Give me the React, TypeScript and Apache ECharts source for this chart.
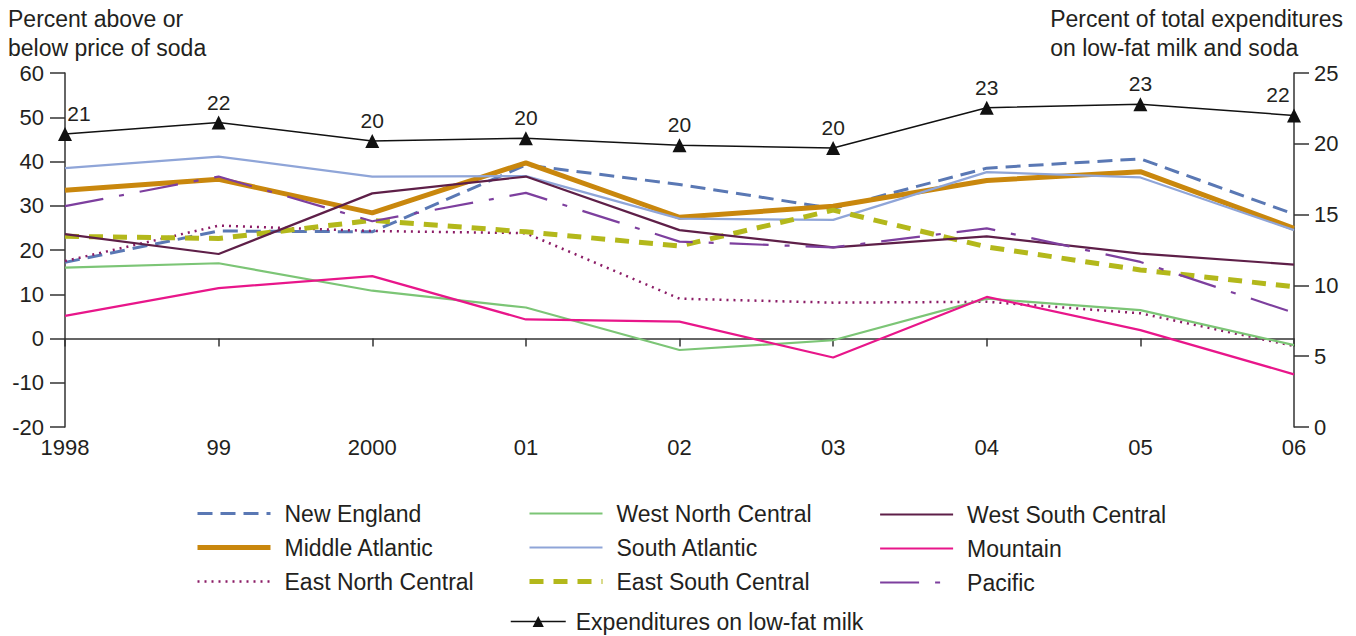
import React, { useEffect, useRef } from 'react';
import * as echarts from 'echarts';

const years = ['1998', '99', '2000', '01', '02', '03', '04', '05', '06'];

// percent above or below price of soda (left axis)
const newEngland = [17.2, 24.3, 24.1, 39.2, 34.8, 29.4, 38.5, 40.6, 28.1];
const middleAtlantic = [33.5, 36.0, 28.4, 39.7, 27.4, 29.9, 35.7, 37.7, 24.9];
const eastNorthCentral = [17.5, 25.5, 24.3, 23.8, 9.0, 8.1, 8.3, 5.7, -1.7];
const westNorthCentral = [16.0, 17.0, 10.8, 7.0, -2.6, -0.4, 9.0, 6.4, -1.5];
const southAtlantic = [38.5, 41.1, 36.6, 36.7, 27.1, 26.8, 37.6, 36.4, 24.5];
const eastSouthCentral = [23.1, 22.6, 26.7, 24.1, 20.9, 29.0, 20.7, 15.5, 11.7];
const westSouthCentral = [23.6, 19.1, 32.8, 36.6, 24.5, 20.6, 23.1, 19.2, 16.7];
const mountain = [5.1, 11.4, 14.1, 4.3, 3.8, -4.3, 9.4, 1.9, -8.1];
const pacific = [29.9, 36.6, 26.5, 32.9, 21.9, 20.6, 24.9, 17.3, 5.8];

// percent of total expenditures on low-fat milk (right axis)
const milkExpenditure = [20.7, 21.5, 20.2, 20.4, 19.9, 19.7, 22.55, 22.8, 22.0];
const milkLabels = ['21', '22', '20', '20', '20', '20', '23', '23', '22'];

const FONT = 'Liberation Sans, Arial, Helvetica, sans-serif';
const TEXT = '#231f20';

export default function App() {
    const chartRef = useRef<HTMLDivElement | null>(null);

    useEffect(() => {
        if (!chartRef.current) return;
        const chart = echarts.init(chartRef.current, null, { renderer: 'svg' });

        const region = (name: string, data: number[], color: string, width: number, type: any) => ({
            name,
            type: 'line',
            data,
            yAxisIndex: 0,
            symbol: 'none',
            lineStyle: { color, width, type, cap: 'butt' },
            itemStyle: { color },
        });

        const legendBase = {
            orient: 'vertical',
            padding: 0,
            itemWidth: 73,
            itemHeight: 14,
            itemGap: 11,
            textStyle: { fontSize: 23, color: TEXT, fontFamily: FONT, padding: [0, 0, 0, 9] },
            lineStyle: { width: 'inherit' },
            itemStyle: { opacity: 0 },
            selectedMode: false,
        };

        const option = {
            animation: false,
            textStyle: { fontFamily: FONT },
            grid: { left: 65, right: 62, top: 73, bottom: 209 },
            graphic: [
                {
                    type: 'text',
                    left: 8,
                    top: 4,
                    style: {
                        text: 'Percent above or\nbelow price of soda',
                        fontSize: 23,
                        lineHeight: 29,
                        fill: TEXT,
                        fontFamily: FONT,
                    },
                },
                {
                    type: 'text',
                    right: 13,
                    top: 4,
                    style: {
                        text: 'Percent of total expenditures\non low-fat milk and soda',
                        fontSize: 23,
                        lineHeight: 29,
                        fill: TEXT,
                        fontFamily: FONT,
                        align: 'right',
                    },
                },
            ],
            legend: [
                { ...legendBase, left: 195, top: 502, data: ['New England', 'Middle Atlantic', 'East North Central'] },
                { ...legendBase, left: 527, top: 502, data: ['West North Central', 'South Atlantic', 'East South Central'] },
                { ...legendBase, left: 879, top: 503, data: ['West South Central', 'Mountain', 'Pacific'] },
                {
                    ...legendBase,
                    itemWidth: 55,
                    left: 510,
                    top: 610,
                    itemStyle: { opacity: 1 },
                    textStyle: { ...legendBase.textStyle, padding: [0, 0, 0, 5] },
                    data: ['Expenditures on low-fat milk'],
                },
            ],
            xAxis: {
                type: 'category',
                data: years,
                boundaryGap: false,
                axisLine: { lineStyle: { color: '#333', width: 1.5 } },
                axisTick: { alignWithLabel: true, length: 8, lineStyle: { color: '#333', width: 1.5 } },
                axisLabel: { color: TEXT, fontSize: 22, margin: 9, fontFamily: FONT },
            },
            yAxis: [
                {
                    type: 'value',
                    min: -20,
                    max: 60,
                    interval: 10,
                    axisLine: { show: true, lineStyle: { color: '#333', width: 1.5 } },
                    axisTick: { show: true, length: 15, lineStyle: { color: '#333', width: 1.5 } },
                    axisLabel: { color: TEXT, fontSize: 22, margin: 21, fontFamily: FONT },
                    splitLine: { show: false },
                },
                {
                    type: 'value',
                    position: 'right',
                    min: 0,
                    max: 25,
                    interval: 5,
                    axisLine: { show: true, lineStyle: { color: '#333', width: 1.5 } },
                    axisTick: { show: true, length: 15, lineStyle: { color: '#333', width: 1.5 } },
                    axisLabel: { color: TEXT, fontSize: 22, margin: 20, fontFamily: FONT },
                    splitLine: { show: false },
                },
            ],
            series: [
                region('New England', newEngland, '#5a78b4', 3, [15, 8]),
                region('Middle Atlantic', middleAtlantic, '#c9870d', 5, 'solid'),
                region('East North Central', eastNorthCentral, '#8b1c66', 2.5, [2, 5]),
                region('West North Central', westNorthCentral, '#7cc576', 2.2, 'solid'),
                region('South Atlantic', southAtlantic, '#8fa5d8', 2.2, 'solid'),
                region('East South Central', eastSouthCentral, '#b3b81b', 5, [14, 10]),
                region('West South Central', westSouthCentral, '#5e1f48', 2.2, 'solid'),
                region('Mountain', mountain, '#e8168a', 2.2, 'solid'),
                region('Pacific', pacific, '#7d3f9e', 2.2, [39, 16, 5, 16]),
                {
                    name: 'Expenditures on low-fat milk',
                    type: 'line',
                    yAxisIndex: 1,
                    z: 5,
                    symbol: 'triangle',
                    symbolSize: 14,
                    data: milkExpenditure.map((v, i) => ({
                        value: v,
                        label: {
                            formatter: milkLabels[i],
                            offset: i === 0 ? [14, 0] : i === milkLabels.length - 1 ? [-16, 0] : [0, 0],
                        },
                    })),
                    lineStyle: { color: '#111', width: 1.5 },
                    itemStyle: { color: '#111' },
                    label: {
                        show: true,
                        position: 'top',
                        distance: 3,
                        fontSize: 21,
                        color: TEXT,
                        fontFamily: FONT,
                    },
                },
            ],
        };

        chart.setOption(option as any);
        return () => {
            chart.dispose();
        };
    }, []);

    return (
        <div
            ref={chartRef}
            style={{ position: 'fixed', left: 0, top: 0, width: '1356px', height: '636px', background: '#fff' }}
        />
    );
}
